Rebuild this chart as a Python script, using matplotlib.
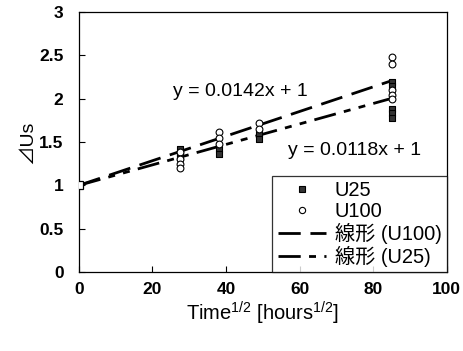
import matplotlib
matplotlib.use("Agg")
import matplotlib.pyplot as plt
from matplotlib.lines import Line2D

plt.rcParams['font.family'] = ['Liberation Sans', 'Noto Sans CJK JP', 'DejaVu Sans']
plt.rcParams['mathtext.fontset'] = 'custom'
plt.rcParams['mathtext.rm'] = 'Liberation Sans'
plt.rcParams['mathtext.it'] = 'Liberation Sans'

# data
u25_x = [0, 27.4, 27.4, 27.4, 38.0, 38.0, 49.0, 49.0, 85.0, 85.0, 85.0, 85.0, 85.0]
u25_y = [1.0, 1.42, 1.37, 1.33, 1.42, 1.36, 1.59, 1.53, 2.19, 2.15, 1.88, 1.83, 1.78]
u100_x = [0, 27.4, 27.4, 27.4, 27.4, 38.0, 38.0, 38.0, 49.0, 49.0, 85.0, 85.0, 85.0, 85.0, 85.0]
u100_y = [1.0, 1.38, 1.30, 1.25, 1.20, 1.62, 1.55, 1.48, 1.72, 1.65, 2.48, 2.40, 2.10, 2.04, 1.99]
slope_u100 = 0.0142
slope_u25 = 0.0118
intercept = 1.0
fit_x = [0, 85]
eq_u100 = "y = 0.0142x + 1"
eq_u25 = "y = 0.0118x + 1"
xticks = [0, 20, 40, 60, 80, 100]
yticks = [0, 0.5, 1, 1.5, 2, 2.5, 3]
yticklabels = ['0', '0.5', '1', '1.5', '2', '2.5', '3']

fig = plt.figure(figsize=(4.64, 3.51), dpi=100)
ax = fig.add_axes([0.170, 0.225, 0.793, 0.741])

d100 = [8, 3.5]
d25 = [8, 3, 2.5, 3, 2.5, 3]
ax.plot(fit_x, [slope_u100 * x + intercept for x in fit_x], color='black', lw=2.0,
        dashes=d100, zorder=2)
ax.plot(fit_x, [slope_u25 * x + intercept for x in fit_x], color='black', lw=2.0,
        dashes=d25, zorder=2)
ax.scatter(u25_x, u25_y, marker='s', s=24, facecolor='#333333', edgecolor='black', lw=0.8, zorder=3)
ax.scatter(u100_x, u100_y, marker='o', s=24, facecolor='white', edgecolor='black', lw=0.8, zorder=4)
ax.plot([0], [1.0], marker='s', ms=6, mfc='white', mec='black', mew=0.9, zorder=5)

ax.text(44, 2.08, eq_u100, fontsize=14, ha='center', va='center')
ax.text(75, 1.40, eq_u25, fontsize=14, ha='center', va='center')

ax.set_xlim(0, 100)
ax.set_ylim(0, 3)
ax.set_xticks(xticks)
ax.set_yticks(yticks)
ax.set_yticklabels(yticklabels)
ax.tick_params(axis='both', direction='in', length=4, width=0.8, labelsize=12.5)
ax.tick_params(axis='y', pad=11)
ax.tick_params(axis='x', pad=7)
for lab in ax.get_xticklabels() + ax.get_yticklabels():
    lab.set_fontweight('bold')
ax.set_ylabel('⊿Us', fontsize=14, labelpad=2)
ax.set_xlabel('Time$^{1/2}$ [hours$^{1/2}$]', fontsize=14.5, labelpad=2)
for s in ax.spines.values():
    s.set_linewidth(0.9)

handles = [
    Line2D([], [], ls='none', marker='s', ms=4.5, mfc='#333333', mec='black', mew=0.8),
    Line2D([], [], ls='none', marker='o', ms=4.5, mfc='white', mec='black', mew=0.8),
    Line2D([], [], color='black', lw=2.0, dashes=d100),
    Line2D([], [], color='black', lw=2.0, dashes=d25),
]
labels = ['U25', 'U100', '線形 (U100)', '線形 (U25)']
leg = ax.legend(handles, labels, loc='lower right', bbox_to_anchor=(1.0, 0.0),
                borderaxespad=0, fontsize=14.5, frameon=True, fancybox=False,
                handlelength=2.4, handletextpad=0.45, labelspacing=0.1,
                borderpad=0.25, edgecolor='black')
leg.get_frame().set_linewidth(0.9)

fig.savefig('out.png', dpi=100)
